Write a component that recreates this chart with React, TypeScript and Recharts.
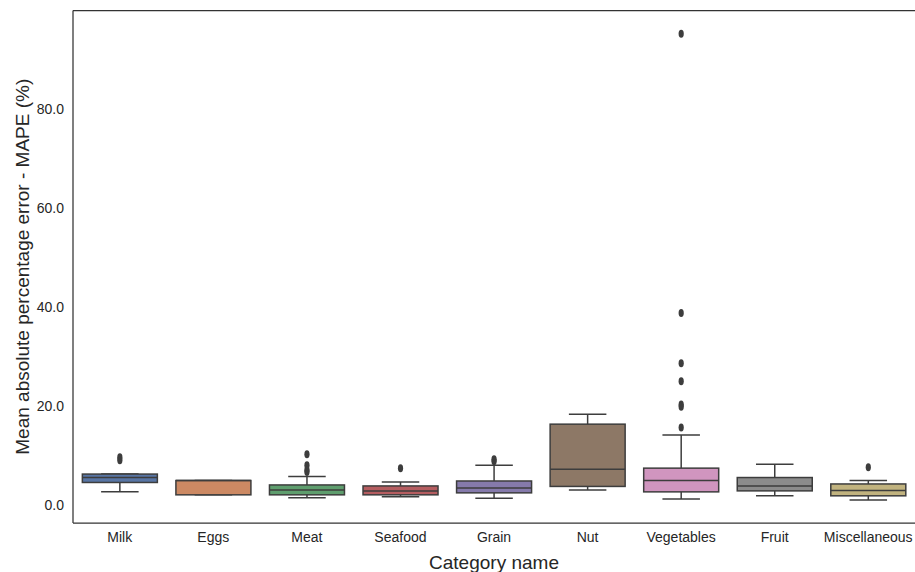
import React from 'react';
import { ComposedChart, Bar, XAxis, YAxis, ReferenceLine } from 'recharts';

const categories = ['Milk', 'Eggs', 'Meat', 'Seafood', 'Grain', 'Nut', 'Vegetables', 'Fruit', 'Miscellaneous'];
const whiskerLow = [2.6, 2.0, 1.4, 1.6, 1.3, 3.0, 1.15, 1.8, 0.95];
const q1 = [4.5, 2.0, 2.0, 2.0, 2.4, 3.7, 2.6, 2.8, 1.8];
const median = [5.5, 4.9, 3.0, 2.8, 3.4, 7.2, 4.9, 3.8, 2.9];
const q3 = [6.2, 4.9, 4.0, 3.8, 4.8, 16.3, 7.4, 5.5, 4.2];
const whiskerHigh = [6.2, 4.9, 5.7, 4.6, 8.0, 18.3, 14.1, 8.2, 4.9];
const outliers = [
  [9.0, 9.6],
  [],
  [10.2, 8.0, 7.0, 6.6],
  [7.4],
  [8.8, 9.2],
  [],
  [95.3, 38.8, 28.6, 25.0, 20.3, 19.8, 15.6],
  [],
  [7.6],
];
const colors = ['#5875a4', '#cc8963', '#5f9e6e', '#b55d60', '#857aab', '#8d7866', '#d095bf', '#8c8c8c', '#c1b37f'];
const yTicks = [0, 20, 40, 60, 80];
const yDomain = [-3.7, 100];

const data = categories.map((name, i) => ({
  name,
  range: [whiskerLow[i], whiskerHigh[i]],
  lo: whiskerLow[i],
  hi: whiskerHigh[i],
  q1: q1[i],
  med: median[i],
  q3: q3[i],
  out: outliers[i],
  color: colors[i],
}));

const LINE = '#3d3d3d';
const FONT = '"Liberation Sans", Arial, sans-serif';

const BoxShape = (props: any) => {
  const { x, y, width, height, payload } = props;
  const top = Math.min(y, y + height);
  const bottom = Math.max(y, y + height);
  const p = payload;
  const k = (bottom - top) / (p.hi - p.lo);
  const vy = (v: number) => bottom - (v - p.lo) * k;
  const cx = x + width / 2;
  const capHalf = width / 4;
  const yQ1 = vy(p.q1);
  const yQ3 = vy(p.q3);
  return (
    <g>
      <line x1={cx} x2={cx} y1={vy(p.hi)} y2={yQ3} stroke={LINE} strokeWidth={1.5} />
      <line x1={cx} x2={cx} y1={yQ1} y2={vy(p.lo)} stroke={LINE} strokeWidth={1.5} />
      <line x1={cx - capHalf} x2={cx + capHalf} y1={vy(p.hi)} y2={vy(p.hi)} stroke={LINE} strokeWidth={1.5} />
      <line x1={cx - capHalf} x2={cx + capHalf} y1={vy(p.lo)} y2={vy(p.lo)} stroke={LINE} strokeWidth={1.5} />
      <rect x={x} y={yQ3} width={width} height={Math.max(yQ1 - yQ3, 0.5)} fill={p.color} stroke={LINE} strokeWidth={1.5} />
      <line x1={x} x2={x + width} y1={vy(p.med)} y2={vy(p.med)} stroke={LINE} strokeWidth={1.5} />
      {p.out.map((v: number, j: number) => (
        <ellipse key={j} cx={cx} cy={vy(v)} rx={2.6} ry={4} fill={LINE} />
      ))}
    </g>
  );
};

const YLabel = (props: any) => {
  const vb = props.viewBox;
  const cx = vb.x + 9;
  const cy = vb.y + vb.height / 2;
  return (
    <text x={cx} y={cy} transform={`rotate(-90, ${cx}, ${cy})`} textAnchor="middle" dominantBaseline="central"
      fontFamily={FONT} fontSize={19} fill="#262626">
      Mean absolute percentage error - MAPE (%)
    </text>
  );
};

const XLabel = (props: any) => {
  const vb = props.viewBox;
  return (
    <text x={vb.x + vb.width / 2} y={vb.y + 39} textAnchor="middle" dominantBaseline="central"
      fontFamily={FONT} fontSize={19} fill="#262626">
      Category name
    </text>
  );
};

export default function App() {
  return (
    <div style={{ position: 'absolute', left: 0, top: 0, width: 915, height: 572, background: '#fff' }}>
      <ComposedChart width={915} height={572} data={data} margin={{ top: 10.5, right: 0, bottom: 0, left: 13 }} barCategoryGap="10%">
        <XAxis dataKey="name" height={49} tickLine={false} tickSize={0} tickMargin={9}
          axisLine={{ stroke: '#333', strokeWidth: 1.25 }}
          tick={{ fontFamily: FONT, fontSize: 14, fill: '#262626' }} interval={0}
          label={<XLabel />} />
        <YAxis type="number" domain={yDomain} ticks={yTicks} width={60} tickLine={false} tickSize={0} tickMargin={9}
          axisLine={{ stroke: '#333', strokeWidth: 1.25 }} allowDataOverflow
          tickFormatter={(v: number) => v.toFixed(1)}
          tick={{ fontFamily: FONT, fontSize: 14, fill: '#262626' }}
          label={<YLabel />} />
        <ReferenceLine y={yDomain[1]} stroke="#333" strokeWidth={1.25} />
        <Bar dataKey="range" shape={<BoxShape />} isAnimationActive={false} />
      </ComposedChart>
    </div>
  );
}
